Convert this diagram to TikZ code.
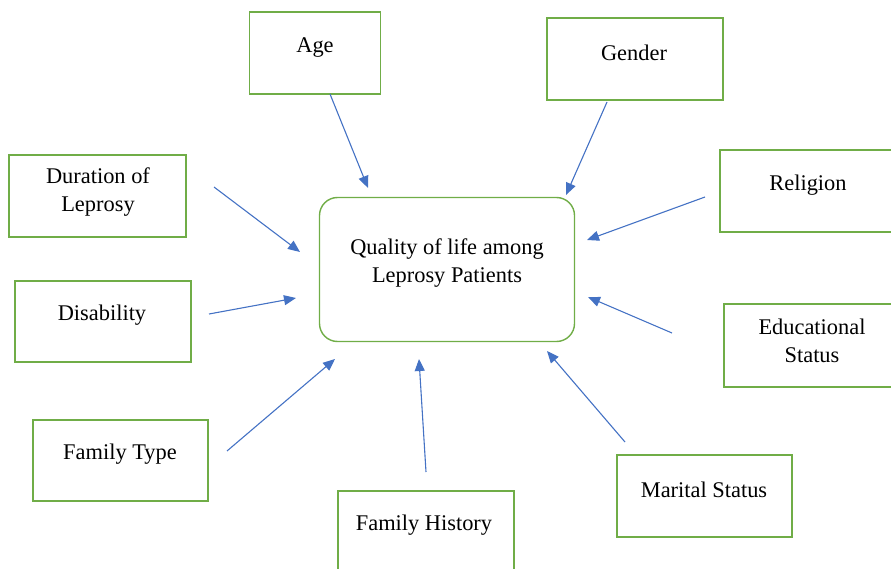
\documentclass[tikz,border=0pt]{standalone}
\usepackage{fontspec}
\setmainfont{Liberation Serif}
\usetikzlibrary{arrows.meta}
\definecolor{boxgreen}{RGB}{112,173,71}
\definecolor{arrblue}{RGB}{68,114,196}
\tikzset{
  box/.style={draw=boxgreen, line width=1.4pt, rectangle, inner sep=0pt},
  lbl/.style={font=\fontsize{22.4}{28}\selectfont, align=center, inner sep=0pt},
  arr/.style={draw=arrblue, line width=1.1pt, -{Triangle[length=12pt,width=10pt]}}
}
\begin{document}
\begin{tikzpicture}[x=1pt,y=-1pt]
\useasboundingbox (0,0) rectangle (891,569);
% center
\node[box, rounded corners=18pt, minimum width=255pt, minimum height=144pt] (qol) at (447,269.5) {};
\node[lbl] (qolT) at (447,263) {Quality of life among\\Leprosy Patients};
% boxes
\node[box, minimum width=131pt, minimum height=82pt] (age) at (315,53) {};
\node[lbl] (ageT) at (315,48) {Age};
\node[box, minimum width=176pt, minimum height=82pt] (gender) at (635,59) {};
\node[lbl] (genderT) at (634,53) {Gender};
\node[box, minimum width=177pt, minimum height=82pt] (dur) at (97.5,196) {};
\node[lbl] (durT) at (98,192) {Duration of\\Leprosy};
\node[box, minimum width=176pt, minimum height=81pt] (dis) at (103,321.5) {};
\node[lbl] (disT) at (102,315) {Disability};
\node[box, minimum width=180pt, minimum height=82pt] (rel) at (810,191) {};
\node[lbl] (relT) at (808,185) {Religion};
\node[box, minimum width=180pt, minimum height=83pt] (edu) at (814,345.5) {};
\node[lbl] (eduT) at (812,341) {Educational\\Status};
\node[box, minimum width=175pt, minimum height=81pt] (ftype) at (120.5,460.5) {};
\node[lbl] (ftypeT) at (120,454) {Family Type};
\node[box, minimum width=176pt, minimum height=86pt] (fhist) at (426,534) {};
\node[lbl] (fhistT) at (424,525) {Family History};
\node[box, minimum width=175pt, minimum height=82pt] (mar) at (704.5,496) {};
\node[lbl] (marT) at (704,490) {Marital Status};
% arrow ends
\coordinate (a1) at (330,94);  \coordinate (b1) at (368,188);
\coordinate (a2) at (607,102); \coordinate (b2) at (566,195);
\coordinate (a3) at (214,187); \coordinate (b3) at (300,252);
\coordinate (a4) at (209,314); \coordinate (b4) at (296,298);
\coordinate (a5) at (705,197); \coordinate (b5) at (587,240);
\coordinate (a6) at (672,333); \coordinate (b6) at (588,297);
\coordinate (a7) at (227,451); \coordinate (b7) at (335,359);
\coordinate (a8) at (426,472); \coordinate (b8) at (419,359);
\coordinate (a9) at (625,442); \coordinate (b9) at (547,351);
\foreach \i in {1,...,9} \draw[arr] (a\i) -- (b\i);
\end{tikzpicture}
\end{document}
